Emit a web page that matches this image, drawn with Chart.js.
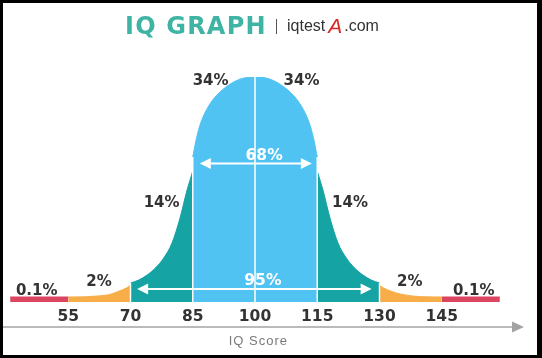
<!DOCTYPE html>
<html>
<head>
<meta charset="utf-8">
<script src="https://cdn.jsdelivr.net/npm/chart.js@4.4.1/dist/chart.umd.min.js"></script>
<style>
  html, body { margin: 0; padding: 0; background: #fff; }
  canvas { display: block; }
</style>
</head>
<body>
<canvas id="c" width="542" height="358"></canvas>
<script>
// ---- data (IQ score, curve height) ----
const tickValues = [55, 70, 85, 100, 115, 130, 145];

const redLeftX = [41, 55];
const redLeftY = [5, 5];
const orangeLeftX = [55, 59, 62, 65, 67, 69, 70];
const orangeLeftY = [5, 5.2, 6, 7.5, 10.5, 14, 17];
const tealLeftX = [70, 72, 74, 76, 78, 80, 82, 83.5, 85];
const tealLeftY = [19, 22, 27, 34, 44, 59, 85, 110, 131];
const blueX = [85, 85.7, 86.6, 87.8, 90, 93, 96.5, 100, 103.5, 107, 110, 112.2, 113.4, 114.3, 115];
const blueY = [145, 160, 175, 188, 203, 215, 223, 225, 223, 215, 203, 188, 175, 160, 145];
const tealRightX = [115, 116.5, 118, 120, 122, 124, 126, 128, 130];
const tealRightY = [131, 110, 85, 59, 44, 34, 27, 22, 19];
const orangeRightX = [130, 131, 133, 135, 138, 141, 145];
const orangeRightY = [17, 14, 10.5, 8, 6, 5.2, 5];
const redRightX = [145, 159];
const redRightY = [5, 5];

const dividerX = [70, 85, 100, 115, 130];
const dividerTop = [19, 145, 225, 145, 19];

const percentLabels = ['0.1%', '2%', '14%', '34%', '34%', '14%', '2%', '0.1%'];
const rangeLabels = ['68%', '95%'];
const rangeFrom = [86.7, 71.6];
const rangeTo = [113.7, 128.1];

// ---- placement (not data) ----
const percentAnchors = [[47.4, 11], [62.4, 19.5], [77.5, 98.5], [89.3, 220.5], [111.2, 220.5], [122.9, 98.5], [137.3, 19.5], [152.7, 10.5]];
const rangeTextAnchors = [[102.2, 146], [101.9, 21]];
const rangeArrowLevel = [138.5, 13];

const COLORS = {
  red: '#dc4560', orange: '#f7ae48', teal: '#15a3a4', blue: '#50c3f3',
  text: '#333333', title: '#3fb4a4', axis: '#a3a3a3'
};

function pts(xs, ys) { return xs.map((x, i) => ({ x: x, y: ys[i] })); }
function region(xs, ys, color, tension) {
  return {
    data: pts(xs, ys), fill: 'origin', backgroundColor: color, borderColor: color,
    borderWidth: 1, pointRadius: 0, tension: tension, cubicInterpolationMode: tension ? 'monotone' : 'default', order: 1
  };
}

const datasets = [
  region(redLeftX, redLeftY, COLORS.red, 0),
  region(orangeLeftX, orangeLeftY, COLORS.orange, 0.4),
  region(tealLeftX, tealLeftY, COLORS.teal, 0.4),
  region(blueX, blueY, COLORS.blue, 0.4),
  region(tealRightX, tealRightY, COLORS.teal, 0.4),
  region(orangeRightX, orangeRightY, COLORS.orange, 0.4),
  region(redRightX, redRightY, COLORS.red, 0)
];
dividerX.forEach((dx, i) => {
  datasets.push({
    data: [{ x: dx, y: 0 }, { x: dx, y: dividerTop[i] }], fill: false,
    borderColor: '#ffffff', borderWidth: 1.5, pointRadius: 0, order: 0
  });
});

function arrowHead(ctx, x, y, dir) {
  ctx.beginPath();
  ctx.moveTo(x, y);
  ctx.lineTo(x - dir * 11, y - 5.5);
  ctx.lineTo(x - dir * 11, y + 5.5);
  ctx.closePath();
  ctx.fill();
}

const decor = {
  id: 'decor',
  beforeDraw(chart) {
    const ctx = chart.ctx;
    ctx.save();
    ctx.fillStyle = '#ffffff';
    ctx.fillRect(0, 0, chart.width, chart.height);
    ctx.restore();
  },
  afterDraw(chart) {
    const ctx = chart.ctx;
    const xs = chart.scales.x, ys = chart.scales.y;
    const area = chart.chartArea;
    ctx.save();

    // range arrows
    ctx.strokeStyle = '#ffffff';
    ctx.fillStyle = '#ffffff';
    ctx.lineWidth = 2;
    rangeLabels.forEach((lab, i) => {
      const y = ys.getPixelForValue(rangeArrowLevel[i]);
      const x1 = xs.getPixelForValue(rangeFrom[i]);
      const x2 = xs.getPixelForValue(rangeTo[i]);
      ctx.beginPath();
      ctx.moveTo(x1 + 6, y); ctx.lineTo(x2 - 6, y); ctx.stroke();
      arrowHead(ctx, x1, y, -1);
      arrowHead(ctx, x2, y, 1);
    });

    // labels
    ctx.textAlign = 'center';
    ctx.textBaseline = 'middle';
    ctx.font = 'bold 15px "DejaVu Sans"';
    ctx.fillStyle = COLORS.text;
    percentLabels.forEach((lab, i) => {
      const a = percentAnchors[i];
      ctx.fillText(lab, xs.getPixelForValue(a[0]), ys.getPixelForValue(a[1]));
    });
    ctx.fillStyle = '#ffffff';
    ctx.font = 'bold 15.5px "DejaVu Sans"';
    rangeLabels.forEach((lab, i) => {
      const a = rangeTextAnchors[i];
      ctx.fillText(lab, xs.getPixelForValue(a[0]), ys.getPixelForValue(a[1]));
    });

    // tick labels
    ctx.fillStyle = COLORS.text;
    ctx.font = 'bold 15.5px "DejaVu Sans"';
    tickValues.forEach(v => {
      ctx.fillText(String(v), xs.getPixelForValue(v), area.bottom + 15);
    });

    // axis arrow
    const ay = area.bottom + 25;
    ctx.strokeStyle = COLORS.axis;
    ctx.fillStyle = COLORS.axis;
    ctx.lineWidth = 1.5;
    ctx.beginPath(); ctx.moveTo(3, ay); ctx.lineTo(514, ay); ctx.stroke();
    ctx.beginPath(); ctx.moveTo(524, ay); ctx.lineTo(512, ay - 5.5); ctx.lineTo(512, ay + 5.5); ctx.closePath(); ctx.fill();

    // axis title
    ctx.fillStyle = '#7a7a7a';
    ctx.font = '13px "Liberation Sans"';
    ctx.letterSpacing = '1px';
    ctx.fillText('IQ Score', xs.getPixelForValue(100.8), area.bottom + 39);
    ctx.letterSpacing = '0px';

    // header
    ctx.textAlign = 'left';
    ctx.textBaseline = 'alphabetic';
    ctx.fillStyle = COLORS.title;
    ctx.font = 'bold 24px "DejaVu Sans"';
    ctx.letterSpacing = '1.2px';
    ctx.fillText('IQ GRAPH', 125, 33.5);
    ctx.letterSpacing = '0px';
    ctx.strokeStyle = '#555';
    ctx.lineWidth = 1;
    ctx.beginPath(); ctx.moveTo(276.5, 19); ctx.lineTo(276.5, 34); ctx.stroke();
    ctx.fillStyle = '#333';
    ctx.font = '16px "Liberation Sans"';
    ctx.fillText('iqtest', 287, 31);
    let w = ctx.measureText('iqtest').width;
    ctx.fillStyle = '#d92a2a';
    ctx.font = 'italic 21px "Liberation Sans"';
    ctx.fillText('A', 287 + w + 3, 33);
    const wa = ctx.measureText('A').width;
    ctx.fillStyle = '#333';
    ctx.font = '16px "Liberation Sans"';
    ctx.fillText('.com', 287 + w + 3 + wa + 2, 31);

    // frame
    ctx.fillStyle = '#000';
    ctx.fillRect(0, 0, chart.width, 3);
    ctx.fillRect(0, 0, 3, chart.height);
    ctx.fillRect(chart.width - 5, 0, 5, chart.height);
    ctx.fillRect(0, chart.height - 3, chart.width, 3);
    ctx.restore();
  }
};

new Chart(document.getElementById('c'), {
  type: 'line',
  data: { datasets: datasets },
  options: {
    responsive: false,
    animation: false,
    devicePixelRatio: 1,
    layout: { padding: { left: 6, right: 38, top: 77, bottom: 56 } },
    plugins: { legend: { display: false }, tooltip: { enabled: false } },
    scales: {
      x: { type: 'linear', min: 40, max: 160, display: false },
      y: { type: 'linear', min: 0, max: 225, display: false }
    }
  },
  plugins: [decor]
});
</script>
</body>
</html>
